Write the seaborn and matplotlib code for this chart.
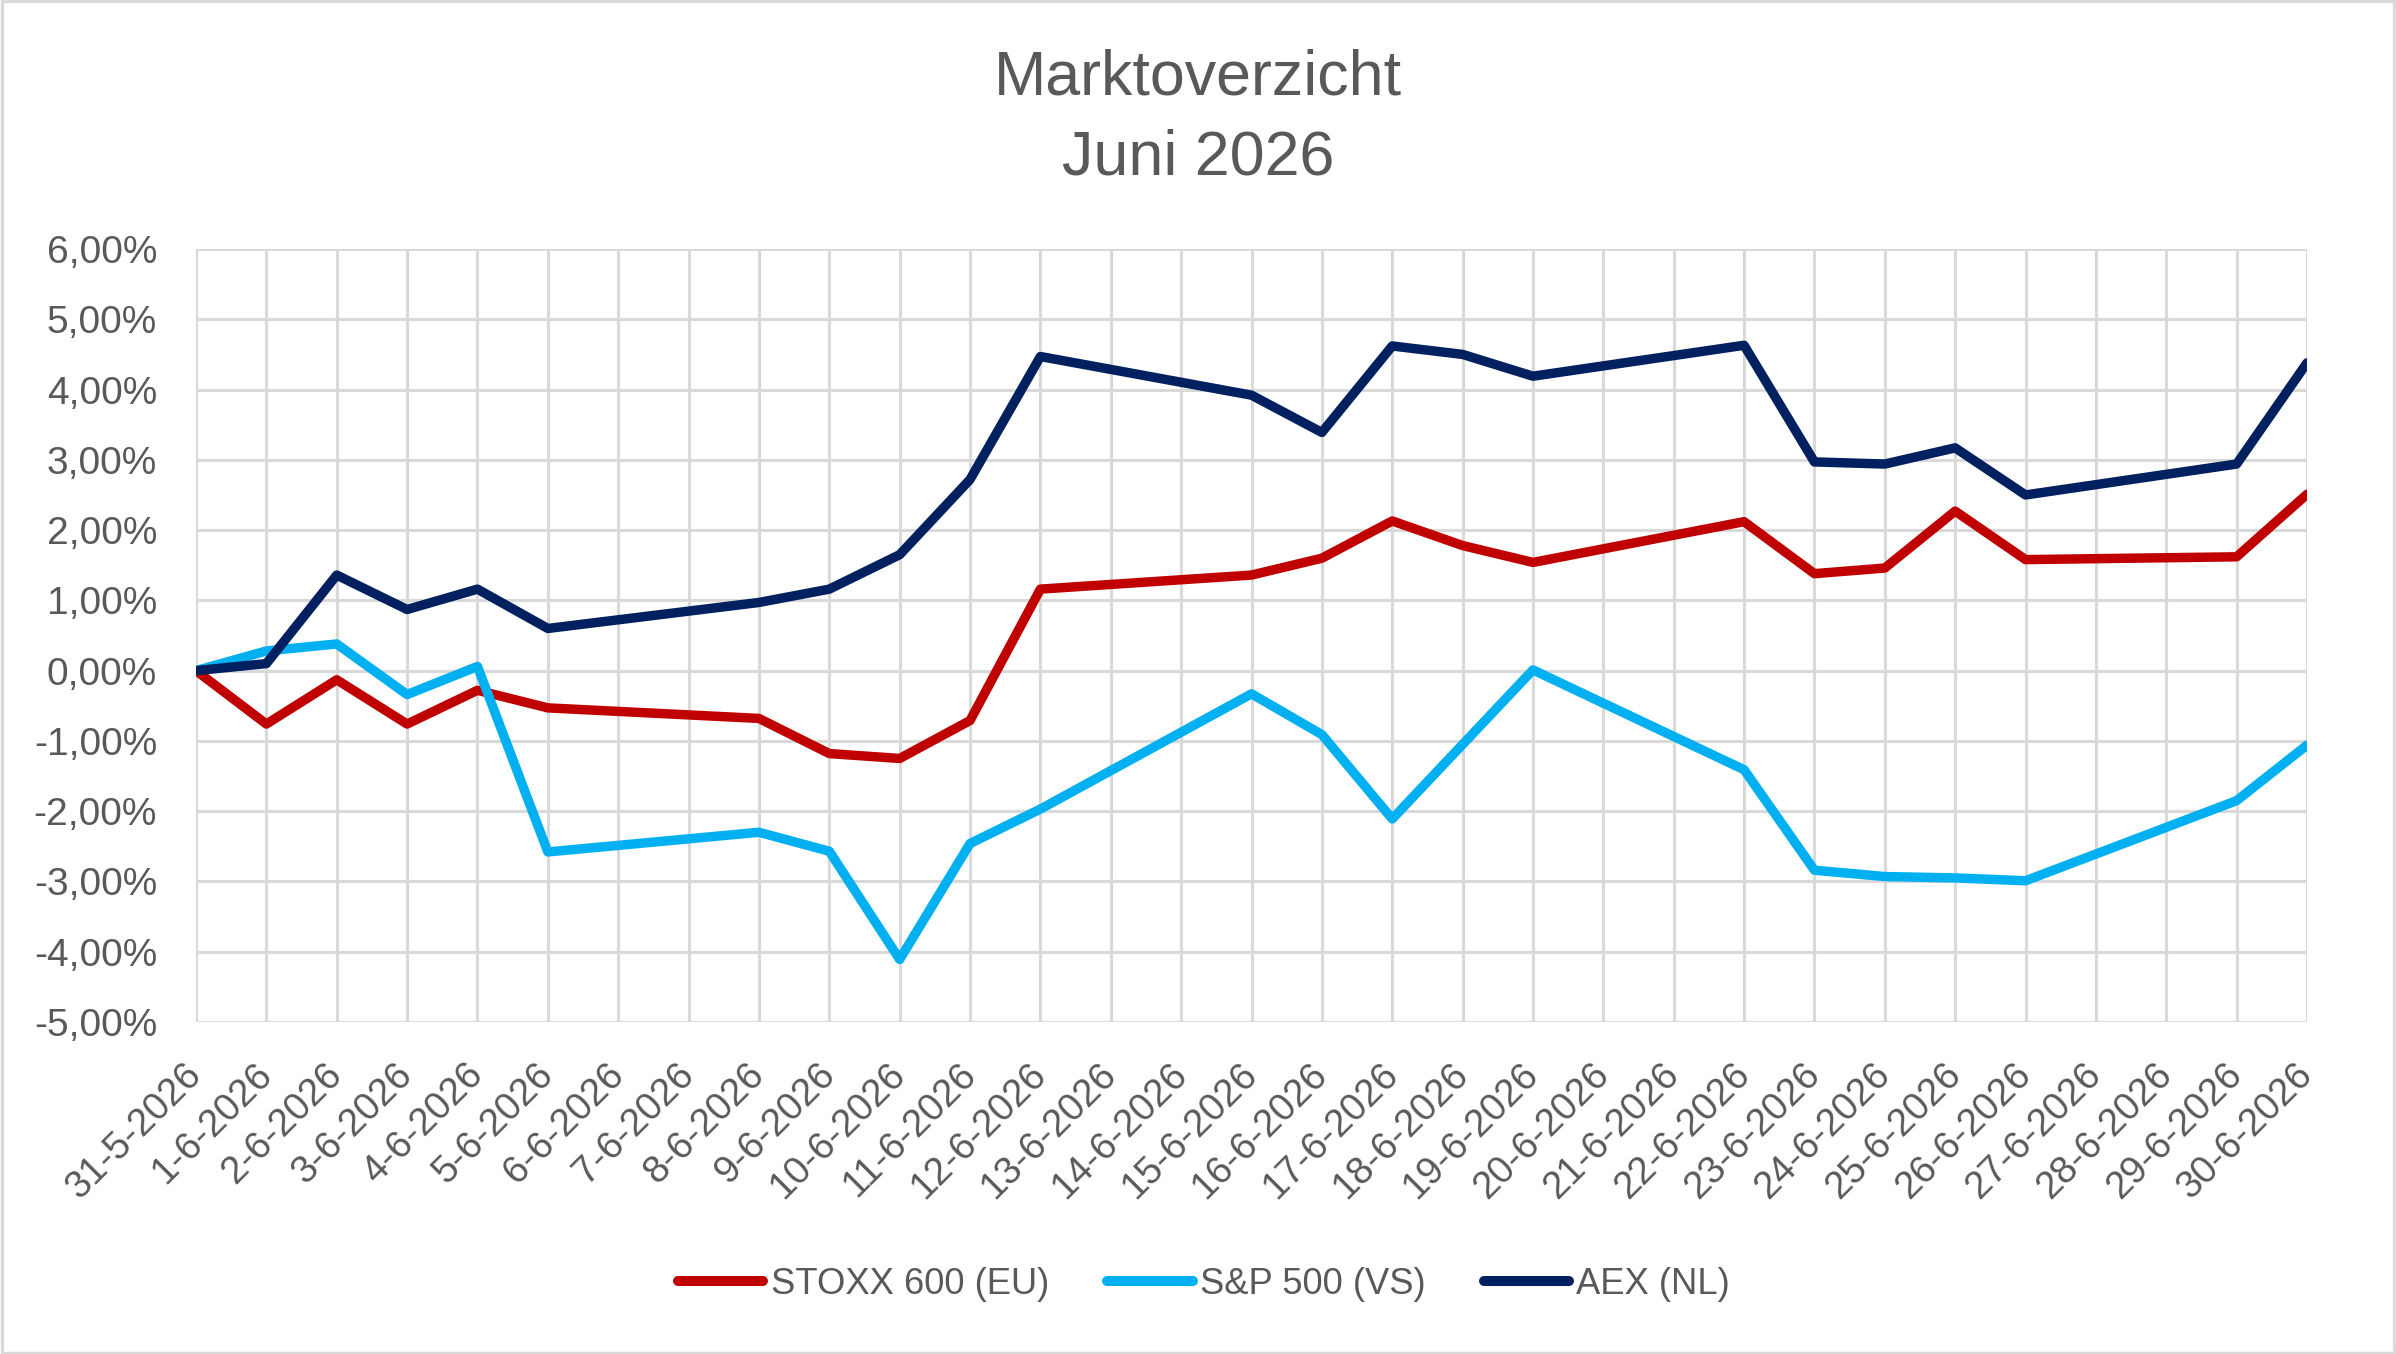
import numpy as np
import pandas as pd
import matplotlib
matplotlib.use("Agg")
import matplotlib.pyplot as plt
from matplotlib.ticker import FuncFormatter, FixedLocator
from matplotlib.patches import Rectangle
import seaborn as sns

# ---------------- data ----------------
dates = ["31-5-2026", "1-6-2026", "2-6-2026", "3-6-2026", "4-6-2026", "5-6-2026",
         "6-6-2026", "7-6-2026", "8-6-2026", "9-6-2026", "10-6-2026", "11-6-2026",
         "12-6-2026", "13-6-2026", "14-6-2026", "15-6-2026", "16-6-2026", "17-6-2026",
         "18-6-2026", "19-6-2026", "20-6-2026", "21-6-2026", "22-6-2026", "23-6-2026",
         "24-6-2026", "25-6-2026", "26-6-2026", "27-6-2026", "28-6-2026", "29-6-2026",
         "30-6-2026"]
nan = np.nan
stoxx = [0.00, -0.76, -0.13, -0.76, -0.28, -0.53, nan, nan, -0.68, -1.18, -1.25, -0.71,
         1.16, nan, nan, 1.36, 1.60, 2.13, 1.78, 1.54, nan, nan, 2.12, 1.38,
         1.46, 2.27, 1.58, nan, nan, 1.62, 2.51]
sp500 = [0.00, 0.28, 0.38, -0.34, 0.06, -2.58, nan, nan, -2.30, -2.57, -4.11, -2.46,
         -1.97, nan, nan, -0.33, -0.91, -2.11, -1.05, 0.01, nan, nan, -1.41, -2.84,
         -2.93, -2.95, -2.99, nan, nan, -1.85, -1.06]
aex = [0.00, 0.10, 1.36, 0.87, 1.16, 0.60, nan, nan, 0.97, 1.16, 1.65, 2.72,
       4.47, nan, nan, 3.92, 3.39, 4.62, 4.50, 4.19, nan, nan, 4.63, 2.97,
       2.94, 3.17, 2.50, nan, nan, 2.94, 4.38]
series_names = ["STOXX 600 (EU)", "S&P 500 (VS)", "AEX (NL)"]
colors = ["#C00000", "#00B0F0", "#002060"]
yticks = [-5, -4, -3, -2, -1, 0, 1, 2, 3, 4, 5, 6]
title_lines = ["Marktoverzicht", "Juni 2026"]

# long-form frame, weekends (missing) dropped so lines connect across them
rows = []
for name, vals in zip(series_names, [stoxx, sp500, aex]):
    for i, v in enumerate(vals):
        if not np.isnan(v):
            rows.append({"idx": i, "value": v, "series": name})
df = pd.DataFrame(rows)

# ---------------- style ----------------
sns.set_theme(style="white")
plt.rcParams["font.family"] = ["Liberation Sans", "DejaVu Sans"]
text_color = "#595959"
grid_color = "#D9D9D9"

W, H, DPI = 2396, 1354, 200
fig = plt.figure(figsize=(W / DPI, H / DPI), dpi=DPI)
fig.patch.set_facecolor("white")

left, right = 196 / W, 2307 / W
top, bottom = 1 - 249 / H, 1 - 1022 / H
ax = fig.add_axes([left, bottom, right - left, top - bottom])

sns.lineplot(data=df, x="idx", y="value", hue="series", hue_order=series_names,
             palette=colors, linewidth=3.4, ax=ax, sort=True, estimator=None,
             legend=False, solid_joinstyle="round", solid_capstyle="round")

ax.set_xlim(0, len(dates) - 1)
ax.set_ylim(-5, 6)
ax.xaxis.set_major_locator(FixedLocator(list(range(len(dates)))))
ax.set_xticklabels(dates)
ax.yaxis.set_major_locator(FixedLocator(yticks))
ax.yaxis.set_major_formatter(FuncFormatter(lambda v, p: f"{v:.2f}%".replace(".", ",")))

ax.grid(True, color=grid_color, linewidth=1.1)
ax.set_axisbelow(True)
for s in ax.spines.values():
    s.set_visible(False)
ax.set_xlabel("")
ax.set_ylabel("")
ax.tick_params(axis="both", length=0, colors=text_color)
ax.tick_params(axis="y", labelsize=14, pad=14)
ax.tick_params(axis="x", labelsize=13.8, pad=17)
for lbl in ax.get_xticklabels():
    lbl.set_rotation(45)
    lbl.set_ha("right")
    lbl.set_va("center")
    lbl.set_rotation_mode("anchor")

# title
fig.text(0.5, 1 - 78 / H, title_lines[0], ha="center", va="center",
         fontsize=22.6, color=text_color)
fig.text(0.5, 1 - 158 / H, title_lines[1], ha="center", va="center",
         fontsize=22.6, color=text_color)

# legend
handles = [plt.Line2D([], [], color=c, linewidth=3.6, solid_capstyle="round") for c in colors]
fig.legend(handles, series_names, loc="center", bbox_to_anchor=(0.5025, 1 - 1284 / H),
           ncol=3, frameon=False, fontsize=13.1, handlelength=2.35, handletextpad=0.2,
           columnspacing=1.6, labelcolor=text_color)

# chart border
fig.patches.append(Rectangle((0.001, 0.001), 0.998, 0.998, transform=fig.transFigure,
                             fill=False, edgecolor=grid_color, linewidth=1.2))

fig.savefig("out.png", dpi=DPI, facecolor="white")
